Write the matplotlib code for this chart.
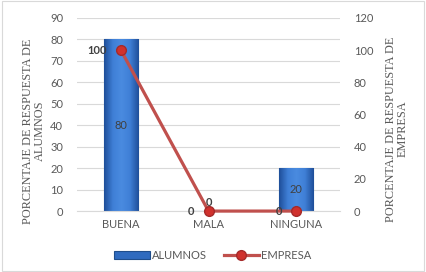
import matplotlib
matplotlib.use("Agg")
import matplotlib.pyplot as plt
from matplotlib.patches import Rectangle
from matplotlib.colors import LinearSegmentedColormap
import numpy as np

categories = ["BUENA", "MALA", "NINGUNA"]
alumnos = [80, 0, 20]
empresa = [100, 0, 0]
left_ticks = [0, 10, 20, 30, 40, 50, 60, 70, 80, 90]
right_ticks = [0, 20, 40, 60, 80, 100, 120]

plt.rcParams['font.family'] = ['Lato', 'DejaVu Sans']
gray = '#595959'

fig = plt.figure(figsize=(4.26, 2.72), dpi=100)
fig.patches.append(Rectangle((0.004, 0.004), 0.992, 0.992, transform=fig.transFigure,
                             fill=False, edgecolor='#d9d9d9', lw=0.8))
ax = fig.add_axes([0.181, 0.224, 0.617, 0.710])
x = np.arange(len(categories))
bars = ax.bar(x, alumnos, width=0.39, color='#2f6bbf', edgecolor='#1f4e8c', lw=0.8, zorder=2)

# gradient fill for bars
cmap = LinearSegmentedColormap.from_list('bg', ['#1f4f9a', '#3f7fd6', '#4a8be0', '#3f7fd6', '#1f4f9a'])
grad = np.linspace(0, 1, 64).reshape(1, -1)
for b in bars:
    if b.get_height() <= 0:
        continue
    bx, by = b.get_x(), b.get_y()
    im = ax.imshow(grad, cmap=cmap, aspect='auto', extent=(bx, bx + b.get_width(), by, by + b.get_height()),
                   zorder=2.1)
    im.set_clip_path(b)
ax.set_xlim(-0.5, 2.5)
ax.set_ylim(0, 90)

ax.set_yticks(left_ticks)
ax.grid(axis='y', color='#d9d9d9', lw=0.8, zorder=0)
ax.set_axisbelow(True)
for s in ['top', 'right', 'left']:
    ax.spines[s].set_visible(False)
ax.spines['bottom'].set_color('#d9d9d9')
ax.tick_params(axis='y', length=0, labelsize=8, labelcolor=gray, pad=10)
ax.tick_params(axis='x', length=0, labelsize=8, labelcolor=gray, pad=6)
ax.set_xticks(x)
ax.set_xticklabels(categories)
for xi, v in zip(x, alumnos):
    yy = v / 2 if v > 0 else 4
    ax.text(xi, yy, str(v), ha='center', va='center', fontsize=8,
            color='#404040', fontweight='bold' if v == 0 else 'normal', zorder=5)

fig.text(34 / 426, 1 - 131 / 272, "PORCENTAJE DE RESPUESTA DE\nALUMNOS", family='Liberation Serif',
         fontsize=8.8, color=gray, rotation=90, ha='center', va='center', linespacing=0.95)
fig.text(397 / 426, 1 - 129 / 272, "PORCENTAJE DE RESPUESTA DE\nEMPRESA", family='Liberation Serif',
         fontsize=8.8, color=gray, rotation=90, ha='center', va='center', linespacing=0.95)

ax2 = ax.twinx()
ax2.set_ylim(0, 120)
ax2.set_yticks(right_ticks)
for s in ['top', 'right', 'left', 'bottom']:
    ax2.spines[s].set_visible(False)
ax2.tick_params(axis='y', length=0, labelsize=8, labelcolor=gray, pad=10)
line, = ax2.plot(x, empresa, color='#c0504d', lw=2.3, marker='o', markersize=7,
                 markerfacecolor='#d0312d', markeredgecolor='#a52a2a', zorder=4, clip_on=False)
for xi, v in zip(x, empresa):
    ax2.text(xi - 0.16, v, str(v), ha='right', va='center', fontsize=8,
             color='#404040', fontweight='bold', zorder=5)

fig.legend([bars, line], ["ALUMNOS", "EMPRESA"], loc='center', bbox_to_anchor=(0.5, 0.062),
           ncol=2, frameon=False, fontsize=8, labelcolor=gray, handlelength=3.2,
           handletextpad=0.2, columnspacing=1.5)
fig.savefig("out.png", dpi=100)
